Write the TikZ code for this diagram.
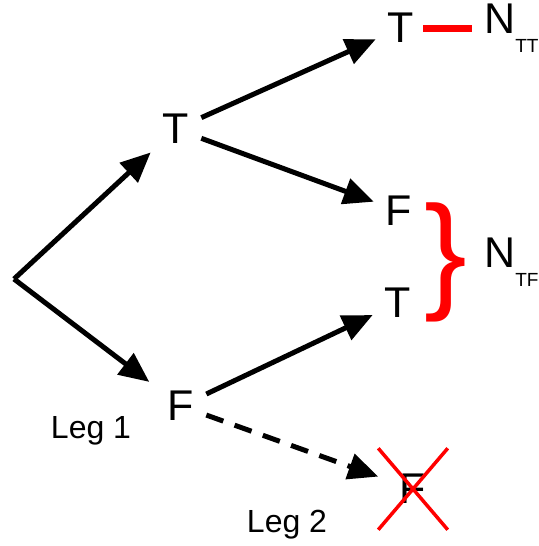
\documentclass[tikz,border=0pt]{standalone}
\usepackage{fontspec}
\setmainfont{Liberation Sans}
\usetikzlibrary{arrows.meta,shapes.misc}
\tikzset{
  val/.style={font=\fontsize{43}{45}\selectfont, inner sep=12pt},
  leg/.style={font=\fontsize{32}{34}\selectfont, inner sep=0pt},
  branch/.style={line width=5pt, -{Triangle[length=30pt,width=26pt]}},
}
\newcommand{\cnt}[1]{N\raisebox{-0.45em}{\fontsize{19}{19}\selectfont #1}}
\begin{document}
\begin{tikzpicture}[x=1pt,y=-1pt]
        \useasboundingbox (0,0) rectangle (538,546);
        \coordinate (root) at (14,279);
        \node[val] (t1) at (176,129) {T};
        \node[val] (f1) at (181,406) {F};
        \node[val] (tt) at (401,28) {T};
        \node[val] (tf) at (399,211) {F};
        \node[val] (ft) at (398,303) {T};
        \node[val, cross out, draw=red, line width=3.5pt, minimum width=66pt, minimum height=78pt] (ff) at (413,489) {F};
        \node[val, anchor=west, inner sep=0pt] (ntt) at (484,28) {\cnt{TT}};
        \node[val, anchor=west, inner sep=0pt] (ntf) at (484,262) {\cnt{TF}};
        \node[red, inner sep=0pt, font=\fontsize{128}{128}\selectfont] (brace) at (446,262) {\}};
        \node[leg] (leg1) at (91,431) {Leg 1};
        \node[leg] (leg2) at (287,525) {Leg 2};
        % leg 1
        \draw[branch] (root) -- (t1);
        \draw[branch, shorten >=8pt] (root) -- (f1);
        % leg 2
        \draw[branch] (t1) -- (tt);
        \draw[branch] (t1) -- (tf);
        \draw[branch] (f1) -- (ft);
        \draw[branch, dash pattern=on 18pt off 12pt] (f1) -- (ff);
        \draw[red, line width=7pt, shorten <=-3pt, shorten >=12pt] (tt) -- (ntt);
\end{tikzpicture}
\end{document}
